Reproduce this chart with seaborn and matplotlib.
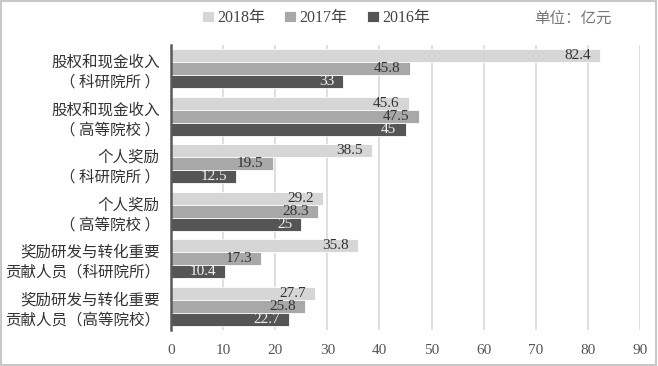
import seaborn as sns
import pandas as pd
import matplotlib.pyplot as plt
from matplotlib.patches import Rectangle

categories = [
    "股权和现金收入\n（ 科研院所 ）",
    "股权和现金收入\n（ 高等院校 ）",
    "个人奖励\n（ 科研院所 ）",
    "个人奖励\n（ 高等院校 ）",
    "奖励研发与转化重要\n贡献人员（科研院所）",
    "奖励研发与转化重要\n贡献人员（高等院校）",
]
years = ["2018年", "2017年", "2016年"]
v2018 = [82.4, 45.6, 38.5, 29.2, 35.8, 27.7]
v2017 = [45.8, 47.5, 19.5, 28.3, 17.3, 25.8]
v2016 = [33, 45, 12.5, 25, 10.4, 22.7]
colors = ["#d6d6d6", "#a8a8a8", "#555555"]

rows = []
for yr, vals in zip(years, [v2018, v2017, v2016]):
    for c, v in zip(categories, vals):
        rows.append({"category": c, "year": yr, "value": v})
df = pd.DataFrame(rows)

sns.set_theme(style="white")
plt.rcParams["font.family"] = ["Liberation Serif", "Noto Sans CJK SC", "DejaVu Sans"]

fig = plt.figure(figsize=(6.58, 3.66), dpi=100)
ax = fig.add_axes([171 / 658, 1 - 330 / 366, 469 / 658, 285 / 366])

sns.barplot(data=df, y="category", x="value", hue="year", hue_order=years,
            order=categories, orient="h", palette=colors, saturation=1,
            width=0.82, edgecolor="white", linewidth=0.6, ax=ax, legend=True)

# value labels inside the bar ends
for cont, col in zip(ax.containers, ["#333333", "#333333", "#f2f2f2"]):
    for p in cont:
        w = p.get_width()
        ax.annotate(f"{w:g}", (w, p.get_y() + p.get_height() / 2),
                    xytext=(-6.5, 0), textcoords="offset points",
                    ha="right", va="center", fontsize=11, color=col,
                    family=["Liberation Serif"])

ax.set_xlim(0, 90)
ax.set_xticks(range(0, 91, 10))
ax.set_xlabel("")
ax.set_ylabel("")
ax.xaxis.grid(True, color="#d9d9d9", lw=1.2)
ax.set_axisbelow(True)
for s in ["top", "right", "bottom"]:
    ax.spines[s].set_visible(False)
ax.spines["left"].set_color("#5a5a5a")
ax.spines["left"].set_linewidth(1.8)
ax.tick_params(axis="both", length=0)
ax.tick_params(axis="x", pad=10, labelsize=11, labelcolor="#555555")
ax.tick_params(axis="y", pad=8)
for lab in ax.get_yticklabels():
    lab.set_family(["Noto Sans CJK SC"])
    lab.set_fontsize(11.2)
    lab.set_color("#333333")
    lab.set_linespacing(1.25)
    lab.set_horizontalalignment("right")
    lab.set_multialignment("right")

handles, labels = ax.get_legend_handles_labels()
ax.get_legend().remove()
fig.legend(handles, labels, loc="center", bbox_to_anchor=(316 / 658, 1 - 18 / 366),
           ncol=3, frameon=False, fontsize=11.5, handlelength=0.75, handleheight=0.75,
           handletextpad=0.2, columnspacing=1.2, labelcolor="#444444")

fig.text(573 / 658, 1 - 18 / 366, "单位：亿元", ha="center", va="center",
         fontsize=11.2, color="#777777", family=["Noto Sans CJK SC"])

fig.patches.append(Rectangle((0.002, 0.003), 0.995, 0.994, transform=fig.transFigure,
                             fill=False, edgecolor="#c8c8c8", lw=1.5))

fig.savefig("out.png", dpi=100)
